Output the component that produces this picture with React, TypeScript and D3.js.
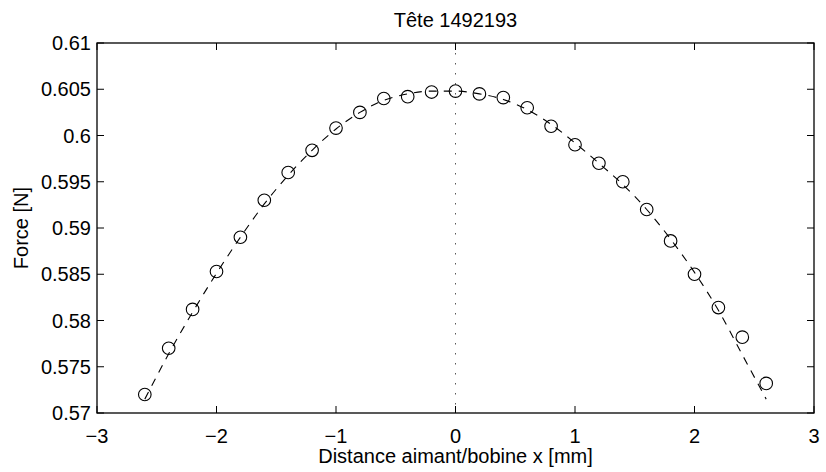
import { useEffect, useRef } from 'react';
// @ts-expect-error -- no d3 typings here
import * as d3 from 'd3';

// Measured points (x in mm, force in N)
const xPoints = [-2.6, -2.4, -2.2, -2.0, -1.8, -1.6, -1.4, -1.2, -1.0, -0.8, -0.6, -0.4, -0.2, 0, 0.2, 0.4, 0.6, 0.8, 1.0, 1.2, 1.4, 1.6, 1.8, 2.0, 2.2, 2.4, 2.6];
const forcePoints = [0.5720, 0.5770, 0.5812, 0.5853, 0.5890, 0.5930, 0.5960, 0.5984, 0.6008, 0.6025, 0.6040, 0.6042, 0.6047, 0.6048, 0.6045, 0.6041, 0.6030, 0.6010, 0.5990, 0.5970, 0.5950, 0.5920, 0.5886, 0.5850, 0.5814, 0.5782, 0.5732];

// Dashed fit curve
const xFit = [-2.6, -2.4, -2.2, -2.0, -1.8, -1.6, -1.4, -1.2, -1.0, -0.8, -0.6, -0.4, -0.2, 0, 0.2, 0.4, 0.6, 0.8, 1.0, 1.2, 1.4, 1.6, 1.8, 2.0, 2.2, 2.4, 2.6];
const forceFit = [0.5715, 0.5764, 0.5809, 0.5851, 0.5890, 0.5926, 0.5957, 0.5984, 0.6007, 0.6025, 0.6038, 0.6045, 0.6048, 0.6048, 0.6045, 0.6039, 0.6028, 0.6012, 0.5992, 0.5970, 0.5947, 0.5920, 0.5888, 0.5852, 0.5811, 0.5763, 0.5715];

const xTicks = [-3, -2, -1, 0, 1, 2, 3];
const yTicks = [0.57, 0.575, 0.58, 0.585, 0.59, 0.595, 0.6, 0.605, 0.61];

const WIDTH = 826;
const HEIGHT = 472;
const MARGIN = { top: 43, right: 12, bottom: 59, left: 97 };
const TICK_LEN = 7;
const FONT = '"Liberation Sans", Arial, Helvetica, sans-serif';

export default function App() {
  const svgRef = useRef<SVGSVGElement>(null);

  useEffect(() => {
    document.body.style.margin = '0';
    if (!svgRef.current) return;

    const svg = d3
      .select(svgRef.current)
      .attr('width', WIDTH)
      .attr('height', HEIGHT)
      .style('background', '#ffffff')
      .style('font-family', FONT);
    svg.selectAll('*').remove();

    const x0 = MARGIN.left;
    const x1 = WIDTH - MARGIN.right;
    const y0 = MARGIN.top;
    const y1 = HEIGHT - MARGIN.bottom;

    const xScale = d3.scaleLinear().domain([-3, 3]).range([x0, x1]);
    const yScale = d3.scaleLinear().domain([0.57, 0.61]).range([y1, y0]);

    // Title
    svg
      .append('text')
      .attr('x', (x0 + x1) / 2)
      .attr('y', 27)
      .attr('text-anchor', 'middle')
      .attr('font-size', '20px')
      .attr('fill', '#000')
      .text('Tête 1492193');

    // vertical dotted line at x = 0
    svg
      .append('line')
      .attr('x1', xScale(0))
      .attr('x2', xScale(0))
      .attr('y1', y0)
      .attr('y2', y1)
      .attr('stroke', '#555')
      .attr('stroke-width', 1)
      .attr('stroke-dasharray', '1.5,8.5');

    // fit curve (dashed)
    const line = d3
      .line()
      .x((d: [number, number]) => xScale(d[0]))
      .y((d: [number, number]) => yScale(d[1]))
      .curve(d3.curveMonotoneX);
    svg
      .append('path')
      .attr('d', line(xFit.map((x, i) => [x, forceFit[i]])))
      .attr('fill', 'none')
      .attr('stroke', '#000')
      .attr('stroke-width', 1.1)
      .attr('stroke-dasharray', '8,7');

    // measured points
    svg
      .append('g')
      .selectAll('circle')
      .data(xPoints.map((x, i) => [x, forcePoints[i]]))
      .enter()
      .append('circle')
      .attr('cx', (d: number[]) => xScale(d[0]))
      .attr('cy', (d: number[]) => yScale(d[1]))
      .attr('r', 6.3)
      .attr('fill', 'none')
      .attr('stroke', '#000')
      .attr('stroke-width', 1.1);

    // axes box
    svg
      .append('rect')
      .attr('x', x0)
      .attr('y', y0)
      .attr('width', x1 - x0)
      .attr('height', y1 - y0)
      .attr('fill', 'none')
      .attr('stroke', '#000')
      .attr('stroke-width', 1.3);

    // x ticks (inward, top and bottom)
    xTicks.forEach(t => {
      const x = xScale(t);
      svg.append('line').attr('x1', x).attr('x2', x).attr('y1', y1).attr('y2', y1 - TICK_LEN).attr('stroke', '#000');
      svg.append('line').attr('x1', x).attr('x2', x).attr('y1', y0).attr('y2', y0 + TICK_LEN).attr('stroke', '#000');
      svg
        .append('text')
        .attr('x', x)
        .attr('y', y1 + 30)
        .attr('text-anchor', 'middle')
        .attr('font-size', '20px')
        .attr('fill', '#000')
        .text(t < 0 ? `\u2212${Math.abs(t)}` : `${t}`);
    });

    // y ticks (inward, left and right)
    yTicks.forEach(t => {
      const y = yScale(t);
      svg.append('line').attr('x1', x0).attr('x2', x0 + TICK_LEN).attr('y1', y).attr('y2', y).attr('stroke', '#000');
      svg.append('line').attr('x1', x1).attr('x2', x1 - TICK_LEN).attr('y1', y).attr('y2', y).attr('stroke', '#000');
      svg
        .append('text')
        .attr('x', x0 - 6)
        .attr('y', y)
        .attr('dy', '0.36em')
        .attr('text-anchor', 'end')
        .attr('font-size', '20px')
        .attr('fill', '#000')
        .text(d3.format('')(+t.toFixed(3)));
    });

    // axis labels
    svg
      .append('text')
      .attr('x', (x0 + x1) / 2)
      .attr('y', 463)
      .attr('text-anchor', 'middle')
      .attr('font-size', '20px')
      .attr('fill', '#000')
      .text('Distance aimant/bobine x [mm]');

    svg
      .append('text')
      .attr('transform', `translate(28, ${(y0 + y1) / 2}) rotate(-90)`)
      .attr('text-anchor', 'middle')
      .attr('font-size', '20px')
      .attr('fill', '#000')
      .text('Force [N]');

    return () => {
      svg.selectAll('*').remove();
    };
  }, []);

  return <svg ref={svgRef} style={{ display: 'block' }} />;
}
